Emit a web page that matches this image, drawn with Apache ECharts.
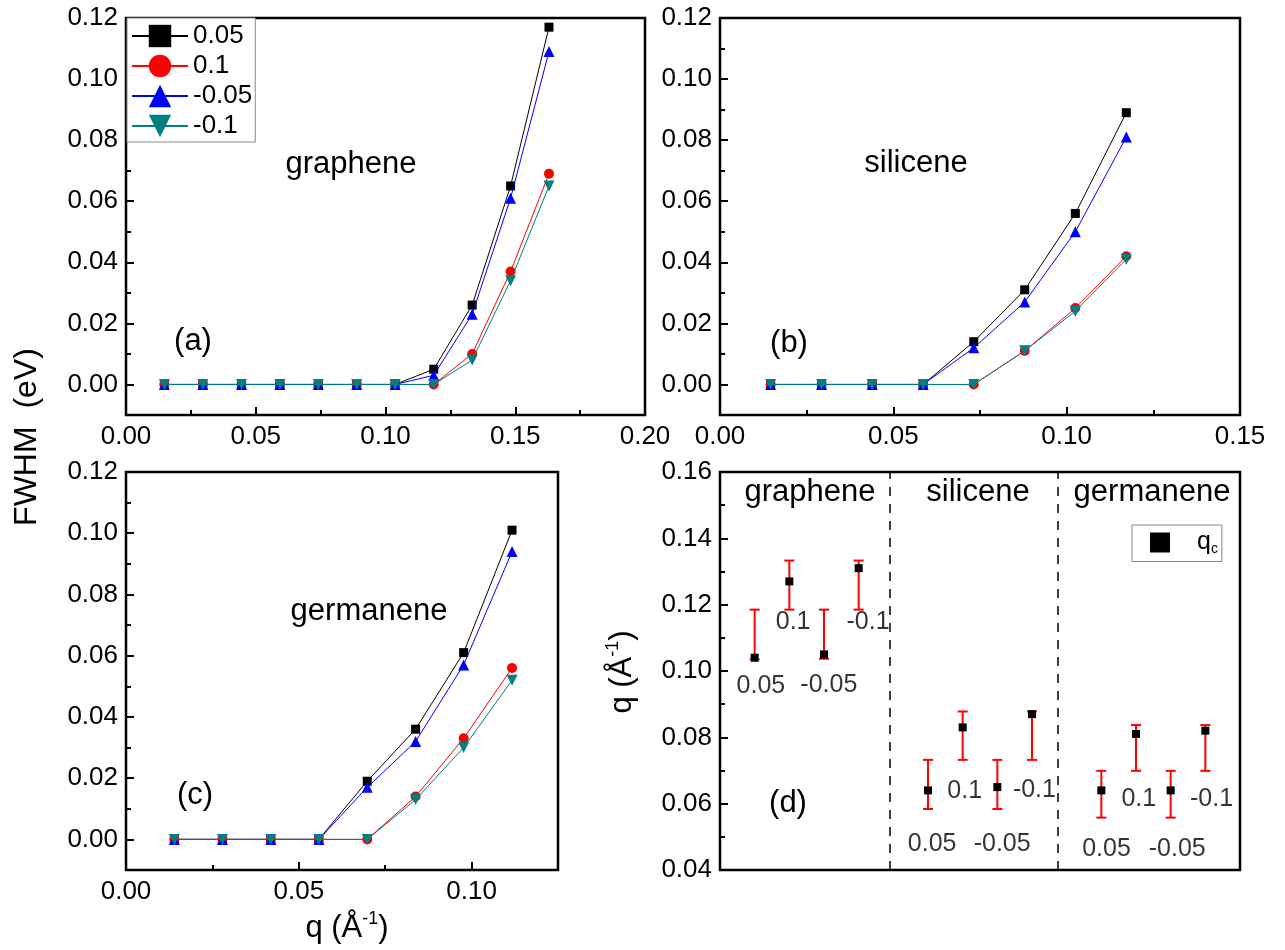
<!DOCTYPE html>
<html><head><meta charset="utf-8">
<script src="https://cdn.jsdelivr.net/npm/echarts@6/dist/echarts.min.js"></script>
<style>html,body{margin:0;padding:0;background:#fff}#c{width:1285px;height:950px}</style>
</head><body><div id="c"></div>
<script>
const FONT = '"Liberation Sans", Arial, sans-serif';

// ---------- data ----------
const seriesNames = ['0.05', '0.1', '-0.05', '-0.1'];

const qGraphene = [0.0148, 0.0296, 0.0445, 0.0593, 0.0741, 0.0889, 0.1037, 0.1186, 0.1334, 0.1482, 0.1630];
const fwhmGraphene_p005 = [0, 0, 0, 0, 0, 0, 0, 0.005, 0.026, 0.065, 0.117];
const fwhmGraphene_p01  = [0, 0, 0, 0, 0, 0, 0, 0, 0.010, 0.037, 0.069];
const fwhmGraphene_m005 = [0, 0, 0, 0, 0, 0, 0, 0.003, 0.023, 0.061, 0.109];
const fwhmGraphene_m01  = [0, 0, 0, 0, 0, 0, 0, 0, 0.008, 0.034, 0.065];

const qSilicene = [0.0146, 0.0293, 0.0439, 0.0586, 0.0732, 0.0879, 0.1025, 0.1172];
const fwhmSilicene_p005 = [0, 0, 0, 0, 0.014, 0.031, 0.056, 0.089];
const fwhmSilicene_p01  = [0, 0, 0, 0, 0, 0.011, 0.025, 0.042];
const fwhmSilicene_m005 = [0, 0, 0, 0, 0.012, 0.027, 0.050, 0.081];
const fwhmSilicene_m01  = [0, 0, 0, 0, 0, 0.011, 0.024, 0.041];

const qGermanene = [0.0140, 0.0279, 0.0419, 0.0558, 0.0698, 0.0838, 0.0977, 0.1117];
const fwhmGermanene_p005 = [0, 0, 0, 0, 0.019, 0.036, 0.061, 0.101];
const fwhmGermanene_p01  = [0, 0, 0, 0, 0, 0.014, 0.033, 0.056];
const fwhmGermanene_m005 = [0, 0, 0, 0, 0.017, 0.032, 0.057, 0.094];
const fwhmGermanene_m01  = [0, 0, 0, 0, 0, 0.013, 0.030, 0.052];

// panel (d): critical q with error bars
const dLabels = ['0.05', '0.1', '-0.05', '-0.1', '0.05', '0.1', '-0.05', '-0.1', '0.05', '0.1', '-0.05', '-0.1'];
const dX = [1, 2, 3, 4, 6, 7, 8, 9, 11, 12, 13, 14];
const qc = [0.104, 0.127, 0.105, 0.131, 0.064, 0.083, 0.065, 0.087, 0.064, 0.081, 0.064, 0.082];
const qcLow  = [0.1035, 0.1185, 0.1037, 0.1185, 0.0584, 0.0732, 0.0584, 0.0732, 0.0558, 0.0699, 0.0558, 0.0699];
const qcHigh = [0.1185, 0.1333, 0.1185, 0.1333, 0.0732, 0.0878, 0.0732, 0.0878, 0.0699, 0.0837, 0.0699, 0.0837];
const dividers = [4.91, 9.75];

// tick values
const yTicksFWHM = [0, 0.02, 0.04, 0.06, 0.08, 0.10, 0.12];
const yMinorFWHM = [-0.01, 0.01, 0.03, 0.05, 0.07, 0.09, 0.11];
const xTicksA = [0, 0.05, 0.10, 0.15, 0.20];
const xMinorA = [0.025, 0.075, 0.125, 0.175];
const xTicksB = [0, 0.05, 0.10, 0.15];
const xMinorB = [0.025, 0.075, 0.125];
const xTicksC = [0, 0.05, 0.10];
const xMinorC = [0.025, 0.075];
const yTicksD = [0.04, 0.06, 0.08, 0.10, 0.12, 0.14, 0.16];
const yMinorD = [0.05, 0.07, 0.09, 0.11, 0.13, 0.15];

// annotation layout (data coordinates of panel d labels)
const dLabelX = [1.18, 2.11, 3.14, 4.27, 6.12, 7.06, 8.14, 9.07, 11.15, 12.08, 13.19, 14.18];
const dLabelY = [0.0953, 0.1146, 0.0958, 0.1146, 0.0477, 0.0638, 0.0477, 0.0641, 0.0462, 0.0613, 0.0462, 0.0613];

// ---------- build ----------
const styles = [
  {color: '#000000', symbol: 'rect', size: 9, rotate: 0},
  {color: '#ff0000', symbol: 'circle', size: 10, rotate: 0},
  {color: '#0000ff', symbol: 'triangle', size: 11, rotate: 0},
  {color: '#008080', symbol: 'triangle', size: 11, rotate: 180}
];

function axisPair(dim, gridIndex, min, max, majors, minors) {
  const base = {type: 'value', gridIndex, min, max, position: dim === 'x' ? 'bottom' : 'left',
    axisLine: {show: false, onZero: false}, splitLine: {show: false}, minorTick: {show: false}, axisPointer: {show: false}};
  const major = Object.assign({}, base, {
    axisTick: {show: true, inside: true, length: 8, customValues: majors, lineStyle: {color: '#000', width: 2}},
    axisLabel: {show: true, customValues: majors, formatter: v => Number(v).toFixed(2), color: '#000',
      fontFamily: FONT, fontSize: 26, margin: dim === 'x' ? 9 : 8}
  });
  const minor = Object.assign({}, base, {
    axisTick: {show: true, inside: true, length: 5, customValues: minors, lineStyle: {color: '#000', width: 2}},
    axisLabel: {show: false, customValues: minors}
  });
  return [major, minor];
}

const grids = [
  {left: 126, top: 18, width: 519, height: 397},
  {left: 720, top: 18, width: 520, height: 397},
  {left: 126, top: 472, width: 432, height: 398},
  {left: 720, top: 472, width: 520, height: 398}
].map(g => Object.assign(g, {show: true, borderColor: '#000', borderWidth: 2.5, backgroundColor: 'transparent', containLabel: false}));

const xAxes = [
  ...axisPair('x', 0, 0, 0.2, xTicksA, xMinorA),
  ...axisPair('x', 1, 0, 0.15, xTicksB, xMinorB),
  ...axisPair('x', 2, 0, 0.125, xTicksC, xMinorC),
  {type: 'value', gridIndex: 3, min: 0, max: 15, show: false, axisLine: {onZero: false}}
];
const yAxes = [
  ...axisPair('y', 0, -0.01, 0.12, yTicksFWHM, yMinorFWHM),
  ...axisPair('y', 1, -0.01, 0.12, yTicksFWHM, yMinorFWHM),
  ...axisPair('y', 2, -0.01, 0.12, yTicksFWHM, yMinorFWHM),
  ...axisPair('y', 3, 0.04, 0.16, yTicksD, yMinorD)
];

function lineSeries(i, q, vals, axisIdx) {
  const st = styles[i];
  return {type: 'line', name: seriesNames[i], xAxisIndex: axisIdx, yAxisIndex: axisIdx,
    data: q.map((x, k) => [x, vals[k]]),
    symbol: st.symbol, symbolSize: st.size, symbolRotate: st.rotate, showAllSymbol: true,
    lineStyle: {color: st.color, width: 1}, itemStyle: {color: st.color, opacity: 1},
    emphasis: {disabled: true}, animation: false, z: 2 + i};
}

const series = [];
[fwhmGraphene_p005, fwhmGraphene_p01, fwhmGraphene_m005, fwhmGraphene_m01].forEach((v, i) => series.push(lineSeries(i, qGraphene, v, 0)));
[fwhmSilicene_p005, fwhmSilicene_p01, fwhmSilicene_m005, fwhmSilicene_m01].forEach((v, i) => series.push(lineSeries(i, qSilicene, v, 2)));
[fwhmGermanene_p005, fwhmGermanene_p01, fwhmGermanene_m005, fwhmGermanene_m01].forEach((v, i) => series.push(lineSeries(i, qGermanene, v, 4)));

// error bars
series.push({
  type: 'custom', xAxisIndex: 6, yAxisIndex: 6, animation: false, silent: true,
  data: dX.map((x, k) => [x, qcLow[k], qcHigh[k]]),
  renderItem: function (params, api) {
    const lo = api.coord([api.value(0), api.value(1)]);
    const hi = api.coord([api.value(0), api.value(2)]);
    const hw = 5;
    const st = {stroke: '#ff0000', lineWidth: 2};
    return {type: 'group', children: [
      {type: 'line', shape: {x1: lo[0], y1: lo[1], x2: hi[0], y2: hi[1]}, style: st},
      {type: 'line', shape: {x1: lo[0] - hw, y1: lo[1], x2: lo[0] + hw, y2: lo[1]}, style: st},
      {type: 'line', shape: {x1: hi[0] - hw, y1: hi[1], x2: hi[0] + hw, y2: hi[1]}, style: st}
    ]};
  },
  markLine: {silent: true, symbol: 'none', label: {show: false},
    lineStyle: {color: '#000', width: 1.5, type: [9, 8]},
    data: dividers.map(v => ({xAxis: v}))}
});
series.push({
  type: 'scatter', name: 'qc', xAxisIndex: 6, yAxisIndex: 6, animation: false, z: 5,
  data: dX.map((x, k) => [x, qc[k]]), symbol: 'rect', symbolSize: 8,
  itemStyle: {color: '#000', opacity: 1}, emphasis: {disabled: true}
});
series.push({
  type: 'scatter', xAxisIndex: 6, yAxisIndex: 6, animation: false, silent: true, z: 6,
  data: dLabelX.map((x, k) => ({value: [x, dLabelY[k]], name: dLabels[k]})),
  symbolSize: 1, itemStyle: {color: 'transparent'},
  label: {show: true, position: 'inside', formatter: '{b}', color: '#000', fontFamily: FONT, fontSize: 25}
});

function txt(text, x, y, size, rot) {
  return {type: 'text', x, y, rotation: rot || 0, silent: true,
    style: {text, fontFamily: FONT, fontSize: size, fill: '#000', align: 'center', verticalAlign: 'middle'}};
}
function richTxt(x, y, rot) {
  return {type: 'text', x, y, rotation: rot || 0, silent: true,
    style: {text: '{a|q (Å}{s|-1}{a|)}', fill: '#000', align: 'center', verticalAlign: 'middle',
      rich: {a: {fontFamily: FONT, fontSize: 31, lineHeight: 36, fill: '#000'},
             s: {fontFamily: FONT, fontSize: 18, lineHeight: 18, verticalAlign: 'top', fill: '#000'}}}};
}

const option = {
  backgroundColor: '#fff',
  animation: false,
  grid: grids,
  xAxis: xAxes,
  yAxis: yAxes,
  legend: [
    {data: seriesNames, left: 127, top: 18, orient: 'vertical', padding: [5, 3, 3, 4],
      itemWidth: 56, itemHeight: 28, itemGap: 4, borderColor: '#888', borderWidth: 1,
      backgroundColor: '#fff', selectedMode: false,
      textStyle: {fontFamily: FONT, fontSize: 26, color: '#000', lineHeight: 26}},
    {data: ['qc'], left: 1132, top: 525, orient: 'vertical', padding: [5, 4, 5, 18],
      itemWidth: 20, itemHeight: 20, borderColor: '#888', borderWidth: 1, selectedMode: false,
      formatter: () => '{q|q}{c|c}',
      textStyle: {color: '#000', rich: {
        q: {fontFamily: FONT, fontSize: 25, lineHeight: 28, padding: [0, 0, 0, 22], color: '#000'},
        c: {fontFamily: FONT, fontSize: 14, lineHeight: 14, verticalAlign: 'bottom', color: '#000'}}}}
  ],
  graphic: [
    txt('graphene', 351, 164, 31),
    txt('(a)', 193, 341, 31),
    txt('silicene', 916, 163, 31),
    txt('(b)', 789, 343, 31),
    txt('germanene', 369, 611, 31),
    txt('(c)', 195, 795, 31),
    txt('graphene', 810, 492, 31),
    txt('silicene', 978, 492, 31),
    txt('germanene', 1152, 492, 31),
    txt('(d)', 788, 803, 31),
    txt('FWHM  (eV)', 27, 437, 32, Math.PI / 2),
    richTxt(347, 928, 0),
    richTxt(622, 672, Math.PI / 2)
  ],
  series
};

const chart = echarts.init(document.getElementById('c'), null, {renderer: 'canvas'});
chart.setOption(option);
</script>
</body></html>
